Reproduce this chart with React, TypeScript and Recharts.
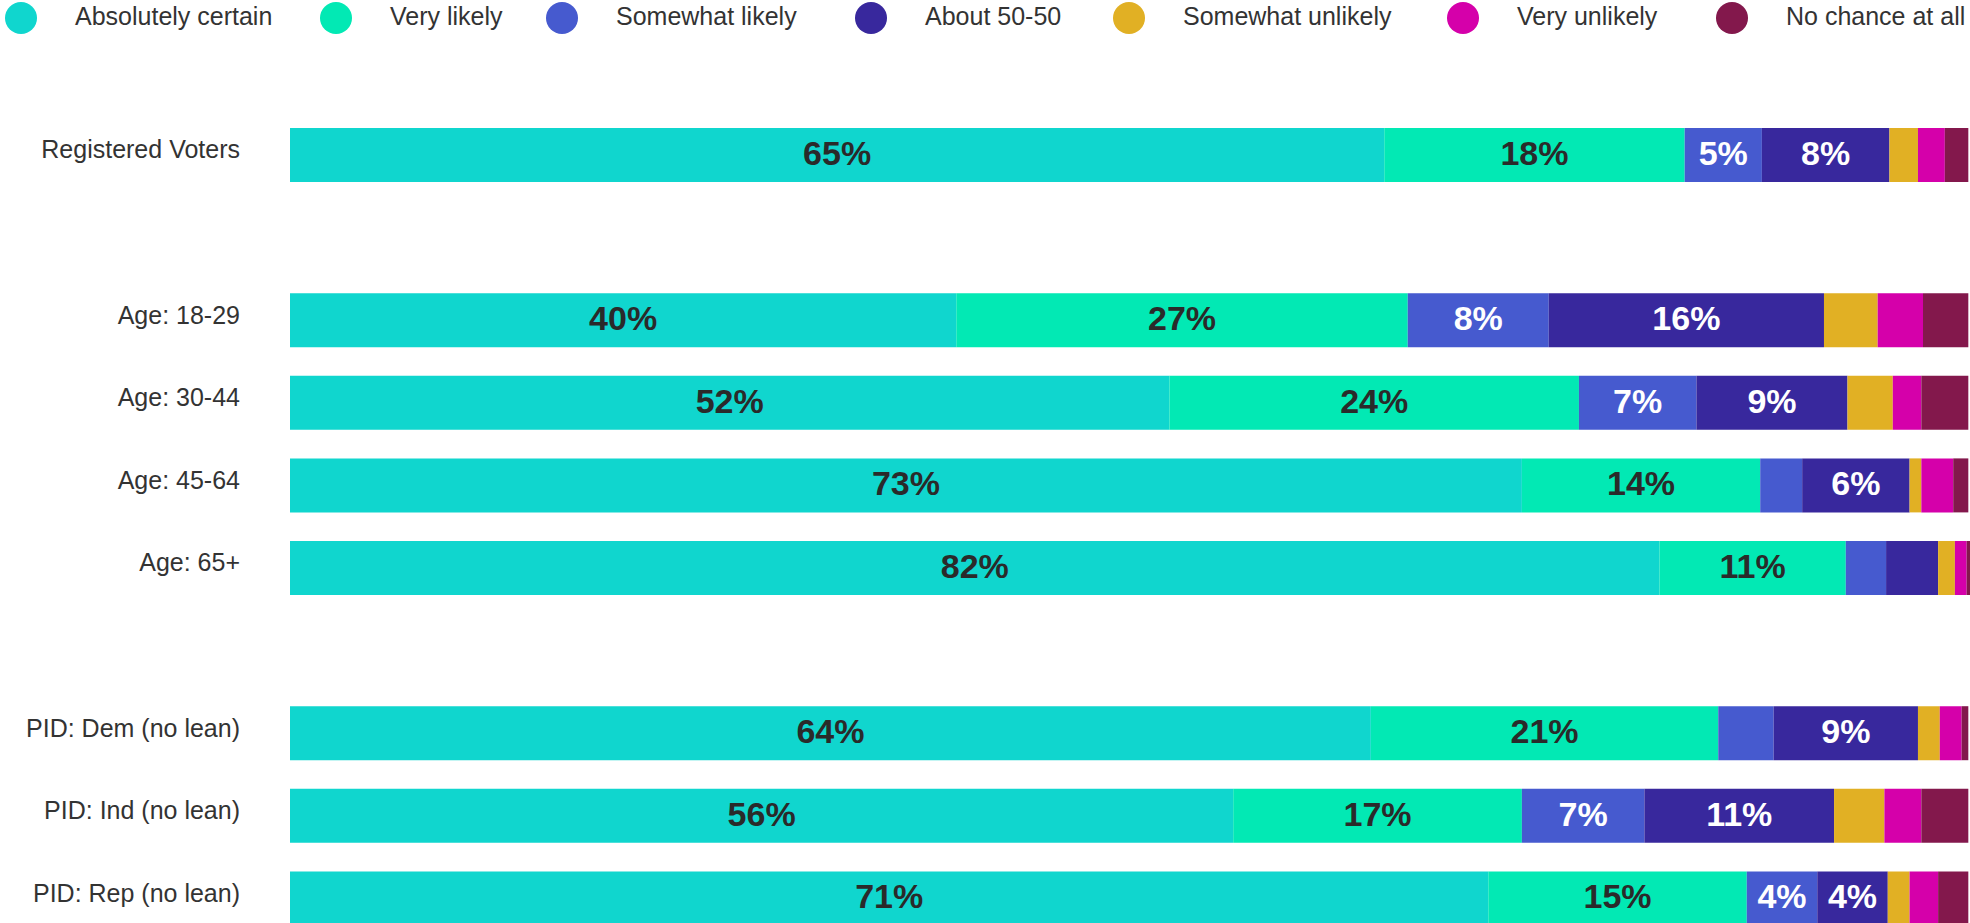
import { Bar, BarChart, LabelList, XAxis, YAxis } from 'recharts'

const FONT = '"Liberation Sans", Arial, Helvetica, sans-serif'

const categories = [
  'Registered Voters',
  '',
  'Age: 18-29',
  'Age: 30-44',
  'Age: 45-64',
  'Age: 65+',
  '',
  'PID: Dem (no lean)',
  'PID: Ind (no lean)',
  'PID: Rep (no lean)',
]

const absolutelyCertain = [65.2, null, 39.7, 52.4, 73.4, 81.6, null, 64.4, 56.2, 71.4]
const veryLikely = [17.9, null, 26.9, 24.4, 14.2, 11.1, null, 20.7, 17.2, 15.4]
const somewhatLikely = [4.6, null, 8.4, 7.0, 2.5, 2.4, null, 3.3, 7.3, 4.2]
const about5050 = [7.6, null, 16.4, 9.0, 6.4, 3.1, null, 8.6, 11.3, 4.2]
const somewhatUnlikely = [1.7, null, 3.2, 2.7, 0.7, 1.0, null, 1.3, 3.0, 1.3]
const veryUnlikely = [1.6, null, 2.7, 1.7, 1.9, 0.7, null, 1.3, 2.2, 1.7]
const noChance = [1.4, null, 2.7, 2.8, 0.9, 0.2, null, 0.4, 2.8, 1.8]

const SERIES = [
  { key: 'Absolutely certain', values: absolutelyCertain, color: '#10d6ce', label: '#2a2a2a' },
  { key: 'Very likely', values: veryLikely, color: '#02e9b4', label: '#2a2a2a' },
  { key: 'Somewhat likely', values: somewhatLikely, color: '#465acf', label: '#ffffff' },
  { key: 'About 50-50', values: about5050, color: '#38289d', label: '#ffffff' },
  { key: 'Somewhat unlikely', values: somewhatUnlikely, color: '#e1b024', label: '#ffffff' },
  { key: 'Very unlikely', values: veryUnlikely, color: '#d500aa', label: '#ffffff' },
  { key: 'No chance at all', values: noChance, color: '#83184c', label: '#ffffff' },
]

const LEGEND_X = [5, 320, 546, 855, 1113, 1447, 1716]

const data = categories.map((name, i) => {
  const row: Record<string, number | string | null> = { id: `row${i}`, name }
  SERIES.forEach((s) => {
    row[s.key] = s.values[i]
  })
  return row
})

const CategoryTick = ({ x, y, payload }: any) => {
  const row = data.find((d) => d.id === payload.value)
  return (
    <text
      x={x}
      y={y - 6}
      textAnchor="end"
      dominantBaseline="central"
      fontSize={25}
      fontFamily={FONT}
      fill="#333333"
    >
      {row ? row.name : ''}
    </text>
  )
}

const makeLabel = (color: string) => (props: any) => {
  const { x, y, width, height, value } = props
  if (value == null || value < 3.5) return null
  return (
    <text
      x={x + width / 2}
      y={y + height / 2 - 2}
      textAnchor="middle"
      dominantBaseline="central"
      fontSize={34}
      fontWeight="bold"
      fontFamily={FONT}
      fill={color}
    >
      {`${Math.round(value)}%`}
    </text>
  )
}

const ChartLegend = () => (
  <div style={{ position: 'absolute', top: 0, left: 0, width: 1970, height: 36 }}>
    {SERIES.map((s, i) => (
      <div
        key={s.key}
        style={{
          position: 'absolute',
          left: LEGEND_X[i],
          top: 2,
          height: 32,
          display: 'flex',
          alignItems: 'center',
          whiteSpace: 'nowrap',
        }}
      >
        <span
          style={{
            width: 32,
            height: 32,
            borderRadius: '50%',
            background: s.color,
            display: 'inline-block',
            marginRight: 38,
          }}
        />
        <span style={{ fontFamily: FONT, fontSize: 25, color: '#333333', marginTop: -3 }}>{s.key}</span>
      </div>
    ))}
  </div>
)

export default function App() {
  return (
    <div
      style={{
        position: 'fixed',
        top: 0,
        left: 0,
        width: 1970,
        height: 923,
        overflow: 'hidden',
        background: '#ffffff',
      }}
    >
      <ChartLegend />
      <BarChart
        width={1970}
        height={940}
        data={data}
        layout="vertical"
        margin={{ top: 114, right: 0, bottom: 0, left: 0 }}
        style={{ position: 'absolute', top: 0, left: 0 }}
      >
        <XAxis type="number" domain={[0, 100]} hide />
        <YAxis
          type="category"
          dataKey="id"
          width={290}
          axisLine={false}
          tickLine={false}
          tickSize={0}
          tickMargin={50}
          interval={0}
          tick={<CategoryTick />}
        />
        {SERIES.map((s) => (
          <Bar
            key={s.key}
            dataKey={s.key}
            stackId="likelihood"
            fill={s.color}
            barSize={54}
            isAnimationActive={false}
          >
            <LabelList dataKey={s.key} content={makeLabel(s.label)} />
          </Bar>
        ))}
      </BarChart>
    </div>
  )
}
